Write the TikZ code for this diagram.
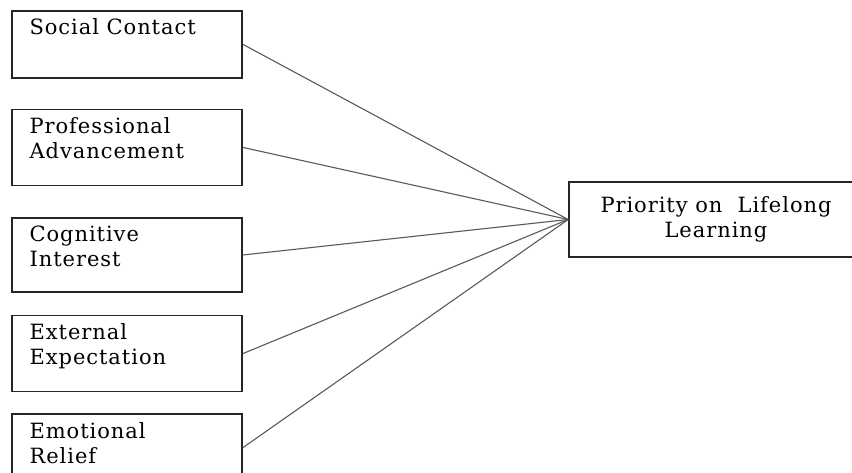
\documentclass[tikz,border=0pt]{standalone}
\usepackage{fontspec}
\setmainfont{DejaVu Serif}[LetterSpace=4.5]
\usepackage{tikz}
\usetikzlibrary{positioning}

\begin{document}
\begin{tikzpicture}[
    x=0.5pt, y=-0.5pt,
    font=\fontsize{10.5}{12.5}\selectfont,
    factor/.style={rectangle, draw=black!85, line width=0.8pt, anchor=north,
                   minimum width=115pt, minimum height=38pt, inner sep=0pt},
    flabel/.style={anchor=north west, align=left, inner xsep=9pt, inner ysep=4.3pt},
    target/.style={rectangle, draw=black!85, line width=0.8pt, align=center,
                   minimum width=147pt, minimum height=37.5pt},
    link/.style={draw=black!65, line width=0.55pt}
]
\useasboundingbox (0,0) rectangle (852,472);

% left column of factors
\node[factor, minimum height=33.5pt, label={[flabel]north west:Social Contact}]
    (social) at (127,10) {};
\node[factor, below=15pt of social,
    label={[flabel]north west:Professional\\Advancement}] (profadv) {};
\node[factor, below=15.5pt of profadv, minimum height=37pt,
    label={[flabel]north west:Cognitive\\Interest}] (cognitive) {};
\node[factor, below=11pt of cognitive,
    label={[flabel]north west:External\\Expectation}] (external) {};
\node[factor, below=10.5pt of external, minimum height=33.5pt,
    label={[flabel]north west:Emotional\\Relief}] (emotional) {};

% outcome
\node[target] (priority) at (716,219.5) {Priority on~ Lifelong\\Learning};

\draw[link] (social.east)    -- (priority.west);
\draw[link] (profadv.east)   -- (priority.west);
\draw[link] (cognitive.east) -- (priority.west);
\draw[link] (external.east)  -- (priority.west);
\draw[link] (emotional.east) -- (priority.west);
\end{tikzpicture}
\end{document}
